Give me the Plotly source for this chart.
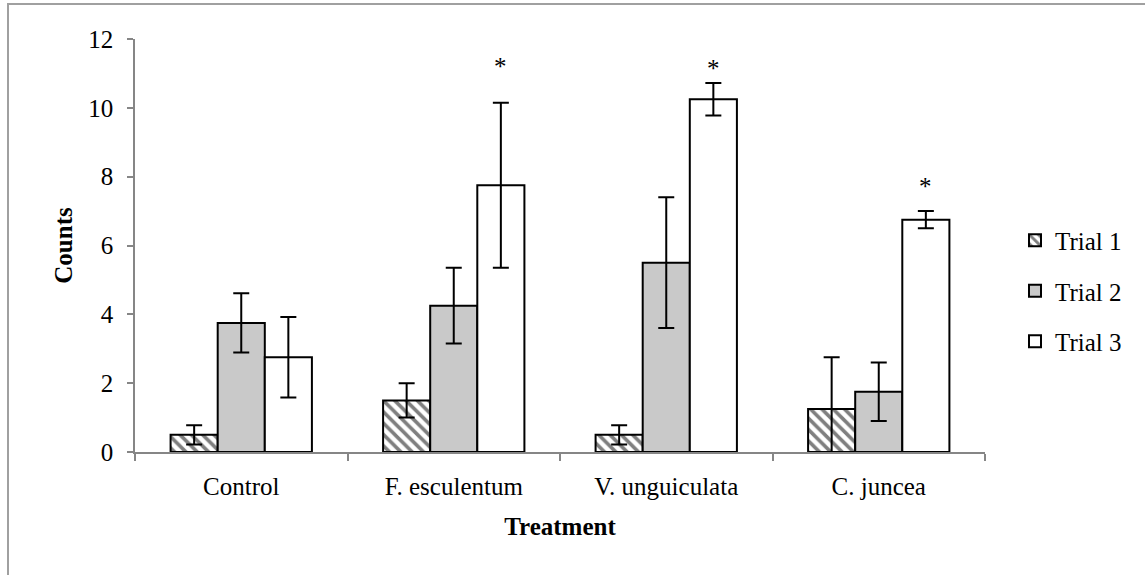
import plotly.graph_objects as go

categories = ["Control", "F. esculentum", "V. unguiculata", "C. juncea"]
series_names = ["Trial 1", "Trial 2", "Trial 3"]
trial1 = [0.5, 1.5, 0.5, 1.25]
trial1_err = [0.28, 0.5, 0.28, 1.5]
trial2 = [3.75, 4.25, 5.5, 1.75]
trial2_err = [0.86, 1.1, 1.9, 0.85]
trial3 = [2.75, 7.75, 10.25, 6.75]
trial3_err = [1.17, 2.4, 0.47, 0.25]
star_labels = ["", "*", "*", "*"]
star_y = [None, 11.2, 11.15, 7.7]
y_ticks = [0, 2, 4, 6, 8, 10, 12]

FONT = "Liberation Serif"
FS = 25
BARGAP = 0.335
L, R, T, B = 135, 160, 39, 123
W, H = 1145, 575
plot_w = W - L - R
plot_h = H - T - B

fig = go.Figure()
values = [trial1, trial2, trial3]
errors = [trial1_err, trial2_err, trial3_err]
fills = ["white", "#c9c9c9", "white"]
patterns = [dict(shape="\\", fgcolor="black", bgcolor="white", size=8, solidity=0.45), None, None]
for i in range(3):
    marker = dict(color=fills[i], line=dict(color="black", width=2))
    if patterns[i]:
        marker["pattern"] = patterns[i]
    fig.add_trace(go.Bar(
        x=categories, y=values[i], name=series_names[i],
        marker=marker,
        error_y=dict(type="data", array=errors[i], visible=True,
                     color="black", thickness=2, width=8),
        legendgroup=series_names[i],
    ))

bar_px = (1 - BARGAP) * plot_w / len(categories) / 3
for c, s, yv in zip(categories, star_labels, star_y):
    if s and yv is not None:
        fig.add_annotation(x=c, y=yv, text=s, showarrow=False, xshift=bar_px,
                           font=dict(family=FONT, size=FS, color="black"),
                           yanchor="middle")

# outer frame
fig.add_shape(type="rect", xref="paper", yref="paper",
              x0=(8 - L) / plot_w, x1=(W + 20 - L) / plot_w,
              y0=-(H + 20 - T - plot_h) / plot_h, y1=(T + plot_h - 4) / plot_h,
              line=dict(color="#a0a0a0", width=2), layer="below")

fig.update_layout(
    width=W, height=H,
    margin=dict(l=L, r=R, t=T, b=B, pad=0),
    paper_bgcolor="white", plot_bgcolor="white",
    barmode="group", bargap=BARGAP, bargroupgap=0,
    font=dict(family=FONT, size=FS, color="black"),
    showlegend=True,
    legend=dict(x=(1015 - L) / plot_w, xanchor="left",
                y=(T + plot_h - 291) / plot_h, yanchor="middle",
                font=dict(family=FONT, size=FS, color="black"),
                tracegroupgap=15, traceorder="grouped",
                bgcolor="rgba(0,0,0,0)"),
    xaxis=dict(showline=True, linecolor="#868686", linewidth=1.5,
               ticks="outside", tickson="boundaries", ticklen=7, tickcolor="#868686",
               tickwidth=1.5, ticklabelstandoff=11,
               title=dict(text="<b>Treatment</b>", font=dict(family=FONT, size=FS), standoff=19),
               tickfont=dict(family=FONT, size=FS), showgrid=False, zeroline=False),
    yaxis=dict(range=[0, 12], tickvals=y_ticks, showline=True, linecolor="#868686",
               linewidth=1.5, ticks="outside", ticklen=6, tickcolor="#868686", tickwidth=1.5,
               ticklabelstandoff=9,
               title=dict(text="<b>Counts</b>", font=dict(family=FONT, size=FS), standoff=9),
               tickfont=dict(family=FONT, size=FS), showgrid=False, zeroline=False),
)

fig.write_html("out.html")
